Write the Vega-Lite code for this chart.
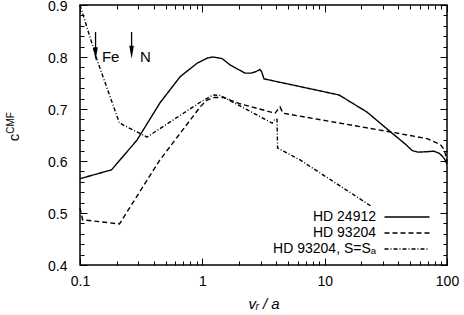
{
  "$schema": "https://vega.github.io/schema/vega-lite/v6.json",
  "width": 367,
  "height": 260,
  "autosize": {"type": "none"},
  "padding": {"left": 80, "top": 5, "right": 17, "bottom": 50},
  "config": {
    "font": "Liberation Sans",
    "view": {"stroke": "#000", "strokeWidth": 1.5},
    "axis": {"domain": false, "grid": false, "tickColor": "#000", "tickWidth": 1, "labelColor": "#000", "labelFontSize": 14, "labelFont": "Liberation Sans", "titleColor": "#000", "titleFont": "Liberation Sans", "titleFontWeight": "normal"}
  },
  "datasets": {
    "curves": [
      {"series": "HD 24912", "x": 0.1, "y": 0.566},
      {"series": "HD 24912", "x": 0.181, "y": 0.583},
      {"series": "HD 24912", "x": 0.292, "y": 0.64},
      {"series": "HD 24912", "x": 0.451, "y": 0.712},
      {"series": "HD 24912", "x": 0.658, "y": 0.762},
      {"series": "HD 24912", "x": 0.906, "y": 0.788},
      {"series": "HD 24912", "x": 1.1, "y": 0.798},
      {"series": "HD 24912", "x": 1.22, "y": 0.8},
      {"series": "HD 24912", "x": 1.45, "y": 0.797},
      {"series": "HD 24912", "x": 1.68, "y": 0.785},
      {"series": "HD 24912", "x": 2.23, "y": 0.769},
      {"series": "HD 24912", "x": 2.5, "y": 0.769},
      {"series": "HD 24912", "x": 2.75, "y": 0.772},
      {"series": "HD 24912", "x": 2.95, "y": 0.776},
      {"series": "HD 24912", "x": 3.05, "y": 0.772},
      {"series": "HD 24912", "x": 3.19, "y": 0.758},
      {"series": "HD 24912", "x": 13.1, "y": 0.727},
      {"series": "HD 24912", "x": 22.2, "y": 0.694},
      {"series": "HD 24912", "x": 36.2, "y": 0.652},
      {"series": "HD 24912", "x": 45.4, "y": 0.633},
      {"series": "HD 24912", "x": 52, "y": 0.62},
      {"series": "HD 24912", "x": 58, "y": 0.617},
      {"series": "HD 24912", "x": 70, "y": 0.618},
      {"series": "HD 24912", "x": 78, "y": 0.619},
      {"series": "HD 24912", "x": 86, "y": 0.615},
      {"series": "HD 24912", "x": 91, "y": 0.61},
      {"series": "HD 24912", "x": 96, "y": 0.603},
      {"series": "HD 24912", "x": 100, "y": 0.594},
      {"series": "HD 93204", "x": 0.1, "y": 0.51},
      {"series": "HD 93204", "x": 0.105, "y": 0.487},
      {"series": "HD 93204", "x": 0.21, "y": 0.479},
      {"series": "HD 93204", "x": 0.45, "y": 0.602},
      {"series": "HD 93204", "x": 0.96, "y": 0.704},
      {"series": "HD 93204", "x": 1.09, "y": 0.717},
      {"series": "HD 93204", "x": 1.25, "y": 0.722},
      {"series": "HD 93204", "x": 1.5, "y": 0.722},
      {"series": "HD 93204", "x": 2.03, "y": 0.71},
      {"series": "HD 93204", "x": 3.93, "y": 0.692},
      {"series": "HD 93204", "x": 4.31, "y": 0.704},
      {"series": "HD 93204", "x": 4.57, "y": 0.692},
      {"series": "HD 93204", "x": 36.2, "y": 0.655},
      {"series": "HD 93204", "x": 68.7, "y": 0.643},
      {"series": "HD 93204", "x": 88, "y": 0.632},
      {"series": "HD 93204", "x": 95, "y": 0.622},
      {"series": "HD 93204", "x": 100, "y": 0.6},
      {"series": "HD 93204, S=Sₐ", "x": 0.1, "y": 0.9},
      {"series": "HD 93204, S=Sₐ", "x": 0.138, "y": 0.794},
      {"series": "HD 93204, S=Sₐ", "x": 0.21, "y": 0.673},
      {"series": "HD 93204, S=Sₐ", "x": 0.353, "y": 0.646},
      {"series": "HD 93204, S=Sₐ", "x": 0.96, "y": 0.713},
      {"series": "HD 93204, S=Sₐ", "x": 1.22, "y": 0.727},
      {"series": "HD 93204, S=Sₐ", "x": 1.4, "y": 0.726},
      {"series": "HD 93204, S=Sₐ", "x": 3.72, "y": 0.673},
      {"series": "HD 93204, S=Sₐ", "x": 3.93, "y": 0.681},
      {"series": "HD 93204, S=Sₐ", "x": 4.08, "y": 0.68},
      {"series": "HD 93204, S=Sₐ", "x": 4.12, "y": 0.625},
      {"series": "HD 93204, S=Sₐ", "x": 6.3, "y": 0.602},
      {"series": "HD 93204, S=Sₐ", "x": 24.4, "y": 0.512}
    ],
    "arrows": [
      {"label": "Fe", "x": 0.134, "ytop": 0.848, "ybot": 0.812, "yhead": 0.806, "tx": 0.151, "ty": 0.8},
      {"label": "N", "x": 0.264, "ytop": 0.848, "ybot": 0.815, "yhead": 0.809, "tx": 0.31, "ty": 0.8}
    ]
  },
  "layer": [
    {
      "data": {"name": "curves"},
      "mark": {"type": "line", "color": "#000", "strokeWidth": 1.4},
      "encoding": {
        "x": {
          "field": "x", "type": "quantitative",
          "scale": {"type": "log", "domain": [0.1, 100], "nice": false},
          "axis": {
            "title": "vᵣ / a", "titleFontSize": 15, "titleFontStyle": "italic", "titlePadding": 8,
            "values": [0.1,0.2,0.3,0.4,0.5,0.6,0.7,0.8,0.9,1,2,3,4,5,6,7,8,9,10,20,30,40,50,60,70,80,90,100],
            "format": "~g",
            "labelExpr": "abs(log(datum.value)/LN10 - round(log(datum.value)/LN10)) < 1e-6 ? datum.label : ''",
            "tickSize": {"condition": {"test": "abs(log(datum.value)/LN10 - round(log(datum.value)/LN10)) < 1e-6", "value": -7}, "value": -4},
            "labelPadding": 16,
            "labelFlush": false
          }
        },
        "y": {
          "field": "y", "type": "quantitative",
          "scale": {"domain": [0.4, 0.9], "nice": false, "zero": false},
          "axis": {
            "title": "c", "titleFontSize": 15,
            "titleX": -74, "titleY": 132, "titleAlign": "center", "titleBaseline": "top", "titleAngle": 270,
            "values": [0.4,0.42,0.44,0.46,0.48,0.5,0.52,0.54,0.56,0.58,0.6,0.62,0.64,0.66,0.68,0.7,0.72,0.74,0.76,0.78,0.8,0.82,0.84,0.86,0.88,0.9],
            "labelExpr": "abs(datum.value*10 - round(datum.value*10)) < 1e-6 ? format(datum.value, '.1f') : ''",
            "tickSize": {"condition": {"test": "abs(datum.value*10 - round(datum.value*10)) < 1e-6", "value": -7}, "value": -4},
            "labelPadding": 20,
            "labelOffset": 1,
            "labelFlush": false
          }
        },
        "strokeDash": {
          "field": "series", "type": "nominal",
          "scale": {"domain": ["HD 24912", "HD 93204", "HD 93204, S=Sₐ"], "range": [[1, 0], [5, 3], [4, 2, 1, 2]]},
          "legend": {
            "title": null, "orient": "none", "legendX": 121, "legendY": 205,
            "symbolType": "M-5,0L5,0", "symbolSize": 81, "symbolStrokeColor": "#000", "symbolStrokeWidth": 1.4, "symbolFillColor": "transparent",
            "labelFontSize": 14, "labelColor": "#000", "labelAlign": "right", "labelOffset": -38, "symbolOffset": 199,
            "rowPadding": 2, "padding": 0, "labelLimit": 300
          }
        },
        "order": {"value": null}
      }
    },
    {
      "data": {"name": "arrows"},
      "mark": {"type": "rule", "color": "#000", "strokeWidth": 1.3},
      "encoding": {
        "x": {"field": "x", "type": "quantitative", "axis": null},
        "y": {"field": "ytop", "type": "quantitative", "axis": {
          "orient": "left", "title": "CMF", "titleFontSize": 10, "ticks": false, "labels": false,
          "titleX": -75, "titleY": 117.5, "titleAlign": "center", "titleBaseline": "top", "titleAngle": 270
        }},
        "y2": {"field": "ybot"}
      }
    },
    {
      "data": {"name": "arrows"},
      "mark": {"type": "point", "filled": true, "color": "#000", "opacity": 1, "shape": "M-0.35,-1L0.35,-1L0,1Z", "size": 170},
      "encoding": {
        "x": {"field": "x", "type": "quantitative", "axis": null},
        "y": {"field": "yhead", "type": "quantitative", "axis": null}
      }
    },
    {
      "data": {"name": "arrows"},
      "mark": {"type": "text", "color": "#000", "fontSize": 15, "align": "left", "baseline": "middle", "font": "Liberation Sans"},
      "encoding": {
        "x": {"field": "tx", "type": "quantitative", "axis": {"orient": "top", "title": null, "labels": false, "values": [0.1,0.2,0.3,0.4,0.5,0.6,0.7,0.8,0.9,1,2,3,4,5,6,7,8,9,10,20,30,40,50,60,70,80,90,100],
          "tickSize": {"condition": {"test": "abs(log(datum.value)/LN10 - round(log(datum.value)/LN10)) < 1e-6", "value": -7}, "value": -4}}},
        "y": {"field": "ty", "type": "quantitative", "axis": {"orient": "right", "title": null, "labels": false, "values": [0.4,0.42,0.44,0.46,0.48,0.5,0.52,0.54,0.56,0.58,0.6,0.62,0.64,0.66,0.68,0.7,0.72,0.74,0.76,0.78,0.8,0.82,0.84,0.86,0.88,0.9],
          "tickSize": {"condition": {"test": "abs(datum.value*10 - round(datum.value*10)) < 1e-6", "value": -7}, "value": -4}}},
        "text": {"field": "label"}
      }
    }
  ],
  "resolve": {"axis": {"x": "independent", "y": "independent"}}
}
